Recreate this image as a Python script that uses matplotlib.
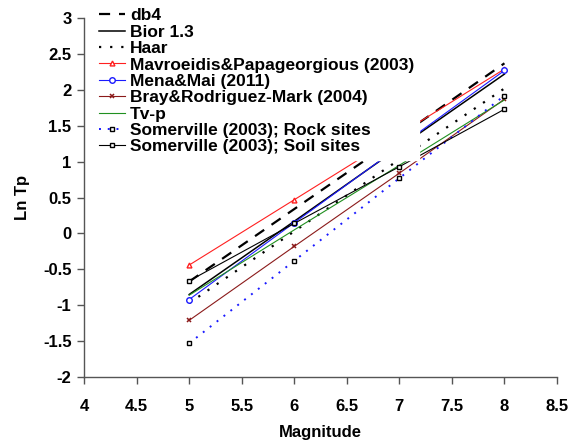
import matplotlib
matplotlib.use('Agg')
import matplotlib.pyplot as plt

plt.rcParams['font.family'] = ['Liberation Sans', 'DejaVu Sans']
plt.rcParams['font.weight'] = 'bold'

magnitude = [5, 6, 7, 8]

db4 = [-0.67, 0.34, 1.35, 2.37]
bior13 = [-0.85, 0.17, 1.20, 2.22]
haar = [-0.97, 0.03, 1.03, 2.02]
mavroeidis = [-0.44, 0.47, 1.38, 2.29]
mena = [-0.92, 0.15, 1.21, 2.27]
bray = [-1.21, -0.18, 0.84, 1.87]
tvp = [-0.86, 0.05, 0.95, 1.86]
somerville_rock = [-1.53, -0.38, 0.77, 1.92]
somerville_soil = [-0.66, 0.14, 0.93, 1.73]

xticks = [4, 4.5, 5, 5.5, 6, 6.5, 7, 7.5, 8, 8.5]
yticks = [-2, -1.5, -1, -0.5, 0, 0.5, 1, 1.5, 2, 2.5, 3]

fig = plt.figure(figsize=(5.76, 4.41), dpi=100)
ax = fig.add_axes([0.146, 0.145, 0.821, 0.814])

lw = 0.8
ax.plot(magnitude, db4, color='black', linewidth=1.6, dashes=(5, 4), label='db4')
ax.plot(magnitude, bior13, color='black', linewidth=1.1, label='Bior 1.3')
ax.plot(magnitude, haar, color='black', linewidth=1.6, dashes=(1, 4), label='Haar')
ax.plot(magnitude, mavroeidis, color='#ff2020', linewidth=lw, marker='^', markersize=3.5,
        markerfacecolor='white', markeredgecolor='#ff2020', label='Mavroeidis&Papageorgious (2003)')
ax.plot(magnitude, mena, color='#1a1aff', linewidth=lw, marker='o', markersize=4,
        markerfacecolor='white', markeredgecolor='#1a1aff', label='Mena&Mai (2011)')
ax.plot(magnitude, bray, color='#8b1a1a', linewidth=lw, marker='x', markersize=3.5,
        markeredgewidth=1.1, label='Bray&Rodriguez-Mark (2004)')
ax.plot(magnitude, tvp, color='#209020', linewidth=lw, label='Tv-p')
ax.plot(magnitude, somerville_rock, color='#1a1aff', linewidth=1.4, dashes=(1, 3.5), marker='s',
        markersize=3, markerfacecolor='white', markeredgecolor='black',
        label='Somerville (2003); Rock sites')
ax.plot(magnitude, somerville_soil, color='black', linewidth=lw, marker='s', markersize=3,
        markerfacecolor='white', markeredgecolor='black', label='Somerville (2003); Soil sites')

ax.set_xlim(4, 8.5)
ax.set_ylim(-2, 3)
ax.set_xticks(xticks)
ax.set_xticklabels(['4', '4.5', '5', '5.5', '6', '6.5', '7', '7.5', '8', '8.5'])
ax.set_yticks(yticks)
ax.set_yticklabels(['-2', '-1.5', '-1', '-0.5', '0', '0.5', '1', '1.5', '2', '2.5', '3'])

for side in ['top', 'right']:
    ax.spines[side].set_visible(False)
for side in ['left', 'bottom']:
    ax.spines[side].set_color('#555555')
    ax.spines[side].set_linewidth(1.0)

ax.tick_params(axis='x', direction='out', length=5, width=1, color='#555555', pad=11, labelsize=12)
ax.tick_params(axis='y', direction='out', length=5, width=1, color='#555555', pad=4, labelsize=12)

ax.set_xlabel('Magnitude', fontsize=12, fontweight='bold', labelpad=8)
ax.set_ylabel('Ln Tp', fontsize=12, fontweight='bold', labelpad=9)

# legend sits over the lines with a white box, like the original
leg = ax.legend(loc='upper left', bbox_to_anchor=(0.162, 0.993), bbox_transform=fig.transFigure,
                fontsize=12.5, frameon=True, fancybox=False, framealpha=1, edgecolor='white',
                borderpad=0.3, borderaxespad=0, labelspacing=0.07, handlelength=1.55,
                handletextpad=0.25)
leg.set_zorder(5)

fig.savefig('out.png', dpi=100)
